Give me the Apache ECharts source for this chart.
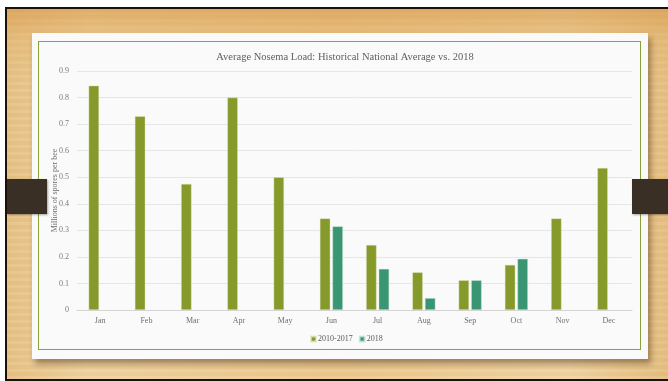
<!DOCTYPE html>
<html>
<head>
<meta charset="utf-8">
<script src="https://cdn.jsdelivr.net/npm/echarts@6/dist/echarts.min.js"></script>
<style>
  html, body { margin: 0; padding: 0; background: #ffffff; }
  #stage { position: relative; width: 668px; height: 381px; overflow: hidden; background: #ffffff; }
  #frame {
    position: absolute; left: 5px; top: 7px; right: 0; bottom: 0;
    border-top: 2px solid #1a1208; border-left: 2px solid #1a1208; border-bottom: 2px solid #1a1208;
    background:
      linear-gradient(180deg, rgba(214,150,70,0.6) 0%, rgba(225,175,100,0.35) 8%, rgba(240,210,150,0) 20%),
      repeating-linear-gradient(0deg, rgba(255,255,255,0.05) 0 3px, rgba(180,130,60,0.06) 3px 7px),
      linear-gradient(90deg, #e6c287 0%, #efd3a0 12%, #ecc98f 50%, #f0d4a2 85%, #e5bf82 100%);
  }
  #card {
    position: absolute; left: 32px; top: 33px; width: 616px; height: 326px;
    background: #fafafa;
    box-shadow: 3px 5px 6px rgba(70,45,15,0.45);
  }
  #border {
    position: absolute; left: 38px; top: 41px; width: 601px; height: 307px;
    border: 1.5px solid #8aa23a;
  }
  .tab { position: absolute; background: #3a2f25; box-shadow: 1px 1px 2px rgba(0,0,0,0.35); }
  #chart { position: absolute; left: 0; top: 0; width: 668px; height: 381px; }
</style>
</head>
<body>
<div id="stage">
  <div id="frame"></div>
  <div id="card"></div>
  <div id="border"></div>
  <div class="tab" style="left:7px; top:179px; width:40px; height:35px;"></div>
  <div class="tab" style="left:632px; top:179px; width:36px; height:35px;"></div>
  <div id="chart"></div>
</div>
<script>
// Monthly average Nosema spore load (millions of spores per bee)
const months = ['Jan', 'Feb', 'Mar', 'Apr', 'May', 'Jun', 'Jul', 'Aug', 'Sep', 'Oct', 'Nov', 'Dec'];
const historical = [0.845, 0.73, 0.475, 0.80, 0.50, 0.345, 0.245, 0.142, 0.112, 0.17, 0.345, 0.535];
const year2018 = [null, null, null, null, null, 0.315, 0.155, 0.045, 0.112, 0.193, null, null];
const seriesNames = ['2010-2017', '2018'];
const yTicks = { min: 0, max: 0.9, interval: 0.1 };

const serif = '"Liberation Serif", "DejaVu Serif", serif';
const chart = echarts.init(document.getElementById('chart'), null, { renderer: 'canvas' });

chart.setOption({
  backgroundColor: 'transparent',
  animation: false,
  title: {
    text: 'Average Nosema Load: Historical National Average vs. 2018',
    left: 340, top: 47, textAlign: 'center',
    textStyle: { fontFamily: serif, fontSize: 10.5, fontWeight: 'normal', color: '#606060' }
  },
  legend: {
    data: seriesNames,
    left: 305, top: 330,
    itemWidth: 5, itemHeight: 5, itemGap: 6,
    icon: 'rect',
    textStyle: { fontFamily: serif, fontSize: 8, color: '#595959', padding: [0, 0, 0, -3] }
  },
  grid: { left: 77, right: 36, top: 71, bottom: 71, containLabel: false },
  xAxis: {
    type: 'category',
    data: months,
    axisTick: { show: false },
    axisLine: { lineStyle: { color: '#d4d4d4', width: 1 } },
    axisLabel: { fontFamily: serif, fontSize: 8, color: '#6f6f6f', margin: 7 }
  },
  yAxis: {
    type: 'value',
    min: yTicks.min, max: yTicks.max, interval: yTicks.interval,
    name: 'Millions of spores per bee',
    nameLocation: 'middle', nameGap: 18, nameMoveOverlap: false,
    nameTextStyle: { fontFamily: serif, fontSize: 8, color: '#6f6f6f' },
    axisLabel: { fontFamily: serif, fontSize: 8, color: '#7a7a7a', margin: 8,
      formatter: v => (v === 0 ? '0' : v.toFixed(1)) },
    splitLine: { lineStyle: { color: '#e6e6e6', width: 1 } },
    axisLine: { show: false },
    axisTick: { show: false }
  },
  series: [
    {
      name: seriesNames[0], type: 'bar', data: historical,
      barWidth: 10.5, barGap: '20%',
      itemStyle: { color: '#86992b', borderColor: 'rgba(220,230,190,0.7)', borderWidth: 0.6 }
    },
    {
      name: seriesNames[1], type: 'bar', data: year2018,
      barWidth: 10.5, barGap: '20%',
      itemStyle: { color: '#3a9672', borderColor: 'rgba(200,230,215,0.7)', borderWidth: 0.6 }
    }
  ]
});
</script>
</body>
</html>
